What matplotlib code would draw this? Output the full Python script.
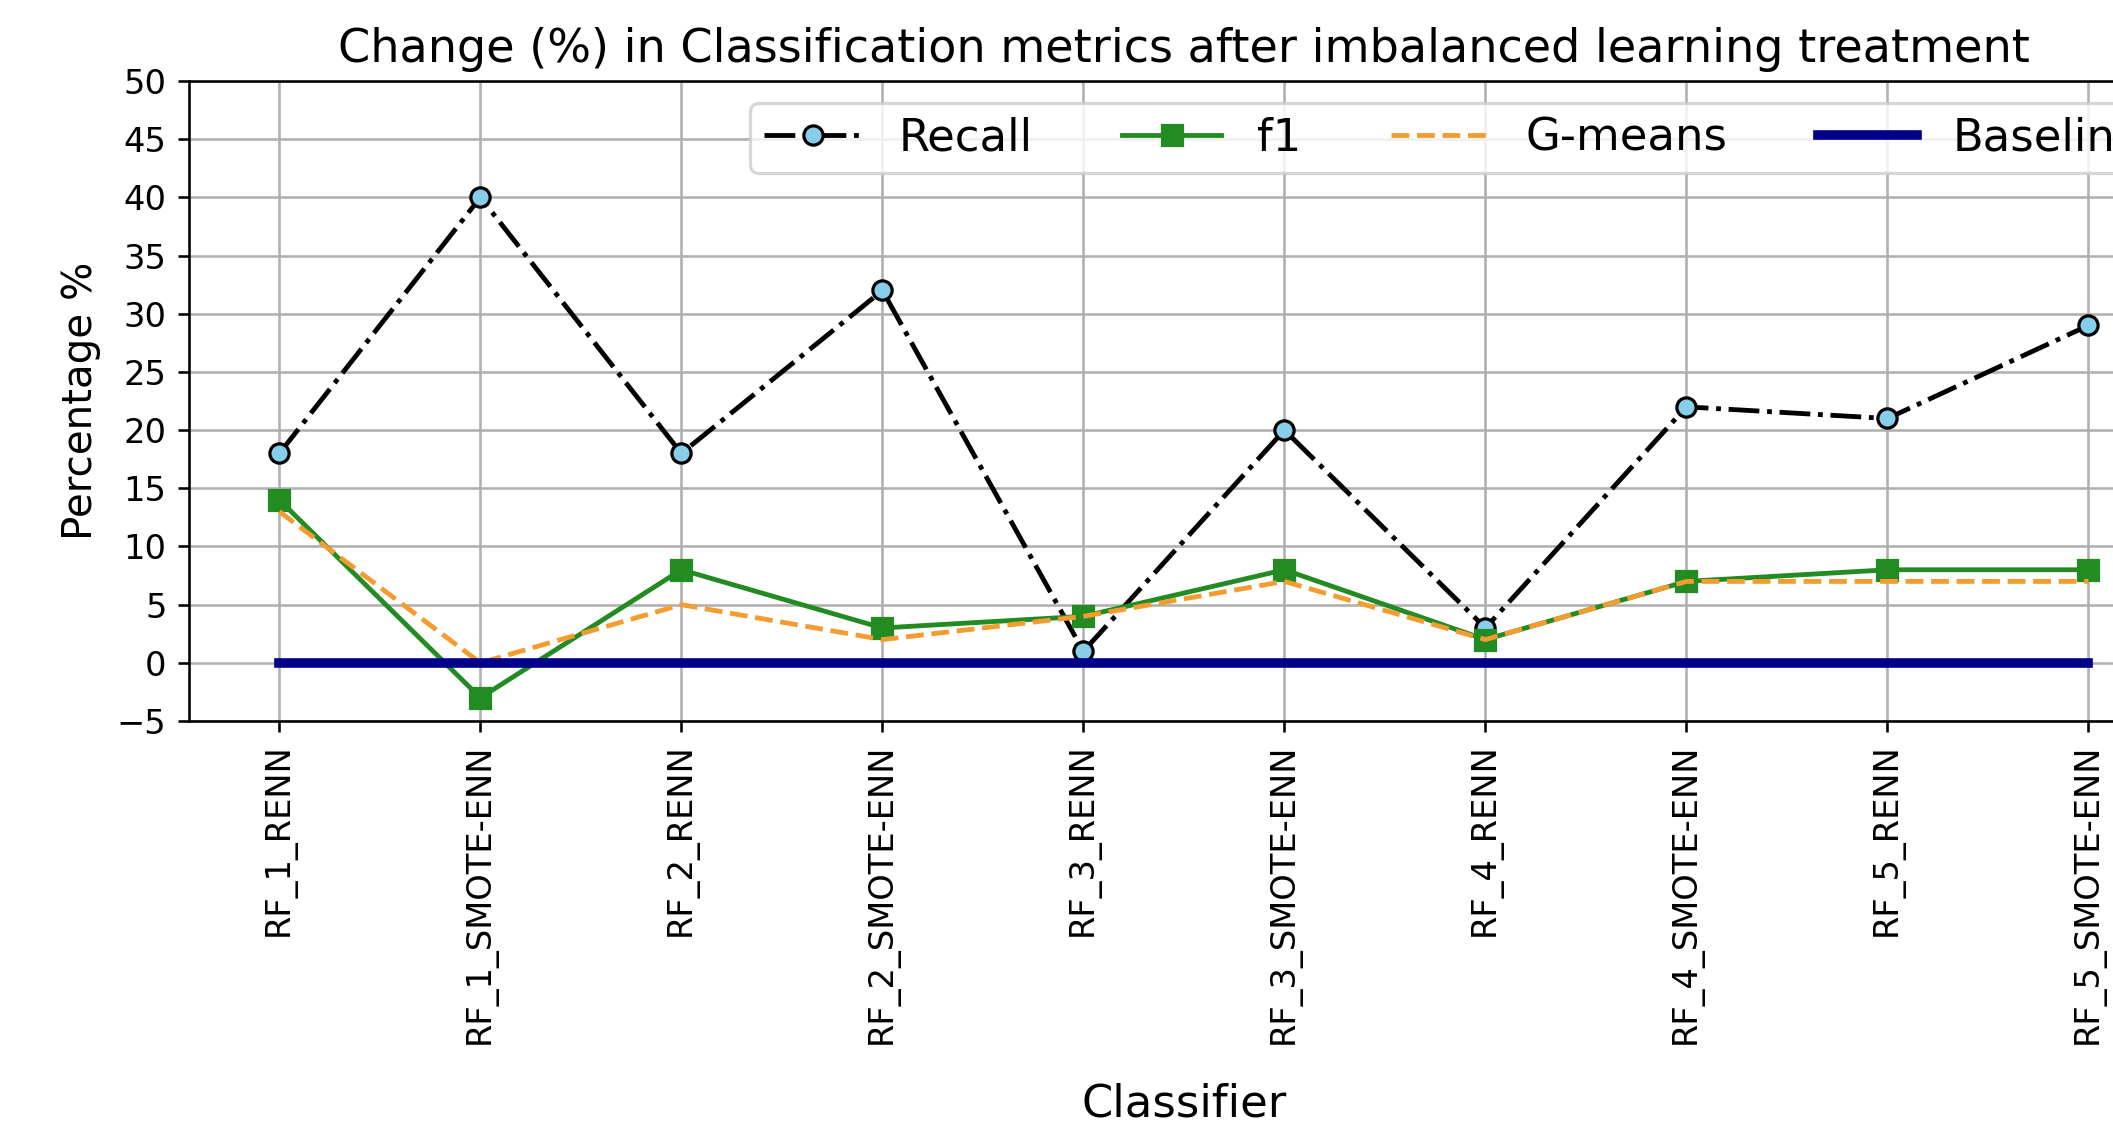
import numpy as np
import matplotlib.pyplot as plt

# classifiers and change (%) per metric
classifiers = ['RF_1_RENN', 'RF_1_SMOTE-ENN', 'RF_2_RENN', 'RF_2_SMOTE-ENN',
               'RF_3_RENN', 'RF_3_SMOTE-ENN', 'RF_4_RENN', 'RF_4_SMOTE-ENN',
               'RF_5_RENN', 'RF_5_SMOTE-ENN']
recall = [18, 40, 18, 32, 1, 20, 3, 22, 21, 29]
f1 = [14, -3, 8, 3, 4, 8, 2, 7, 8, 8]
gmeans = [13, 0, 5, 2, 4, 7, 2, 7, 7, 7]
baseline = [0, 0, 0, 0, 0, 0, 0, 0, 0, 0]

dpi = 231
fig = plt.figure(figsize=(2113/dpi, 1124/dpi), dpi=dpi)
# axes runs past the right edge, like the cropped original
ax = fig.add_axes([0.0894, 0.3585, 0.9418, 0.5694])

ax.plot(classifiers, recall, '-.', color='black', marker='o', markersize=6,
        markerfacecolor='skyblue', markeredgecolor='black', markeredgewidth=1,
        label='Recall')
ax.plot(classifiers, f1, '-', color='forestgreen', marker='s', markersize=6,
        label='f1')
ax.plot(classifiers, gmeans, '--', color='#f39c30', label='G-means')
ax.plot(classifiers, baseline, '-', color='darkblue', linewidth=3, label='Baseline')

ax.set_yticks(np.arange(-5, 51, 5))
ax.set_ylim(-5, 50)
ax.grid(True)
ax.tick_params(labelsize=10.5)
plt.xticks(rotation=90)
ax.set_title('Change (%) in Classification metrics after imbalanced learning treatment',
             fontsize=14.4)
ax.set_xlabel('Classifier', fontsize=14, labelpad=12)
ax.set_ylabel('Percentage %', fontsize=12.6, labelpad=5)
ax.legend(loc='upper right', ncol=4, fontsize=14, handlelength=2.2,
          borderpad=0.3)

plt.savefig('out.png', dpi=dpi)
plt.close()
